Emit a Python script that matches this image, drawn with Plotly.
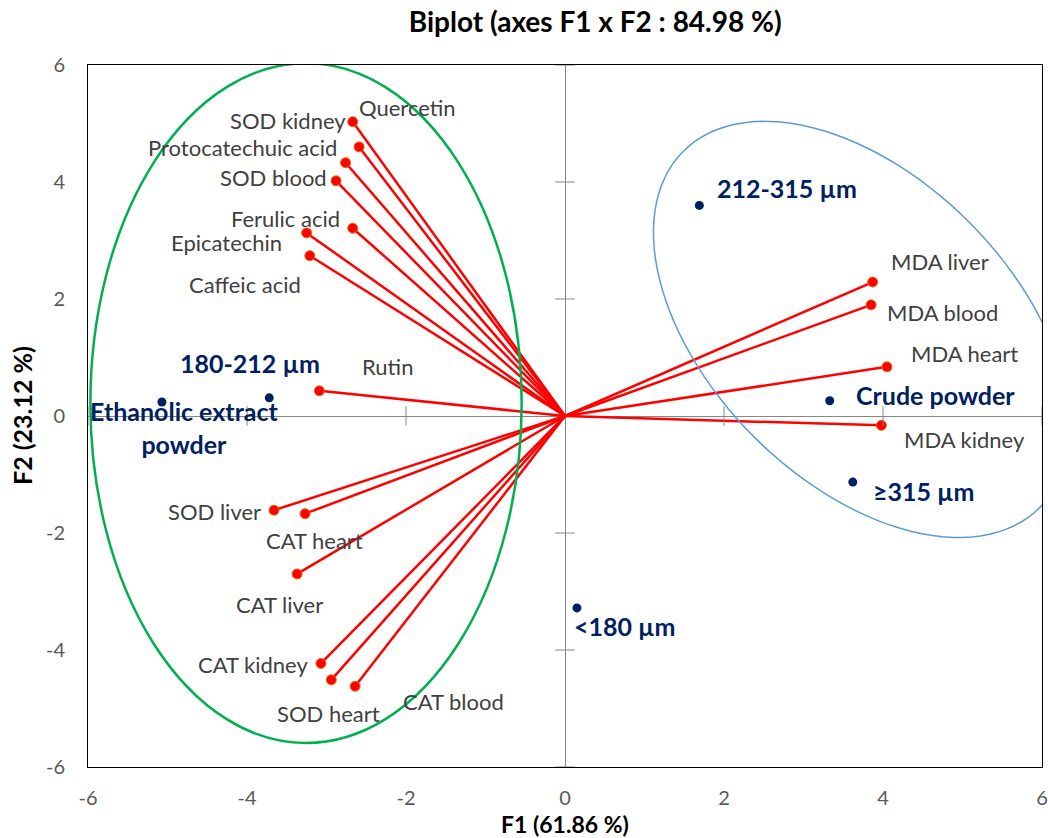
import numpy as np
import plotly.graph_objects as go

# ---------------- data ----------------
var_names = ["SOD kidney", "Quercetin", "Protocatechuic acid", "SOD blood", "Ferulic acid",
             "Epicatechin", "Caffeic acid", "Rutin", "SOD liver", "CAT heart", "CAT liver",
             "CAT kidney", "SOD heart", "CAT blood", "MDA liver", "MDA blood", "MDA heart",
             "MDA kidney"]
var_f1 = [-2.67, -2.59, -2.76, -2.88, -2.67, -3.25, -3.21, -3.09, -3.66, -3.27, -3.37,
          -3.07, -2.94, -2.64, 3.87, 3.85, 4.05, 3.98]
var_f2 = [5.03, 4.60, 4.33, 4.02, 3.21, 3.13, 2.74, 0.43, -1.61, -1.67, -2.70,
          -4.23, -4.51, -4.62, 2.29, 1.90, 0.84, -0.16]

obs_names = ["212-315 µm", "Crude powder", "≥315 µm", "180-212 µm",
             "Ethanolic extract<br>powder", "&lt;180 µm"]
obs_f1 = [1.69, 3.33, 3.62, -3.72, -5.07, 0.15]
obs_f2 = [3.60, 0.26, -1.13, 0.31, 0.24, -3.28]

tick_vals = [-6, -4, -2, 0, 2, 4, 6]
tick_text = ["-6", "-4", "-2", "0", "2", "4", "6"]
title_text = "Biplot (axes F1 x F2 : 84.98 %)"
x_title = "F1 (61.86 %)"
y_title = "F2 (23.12 %)"

# ---------------- label placement (styles, pixels) ----------------
var_label_pos = {
    "SOD kidney": ("right", -5, -1), "Quercetin": ("left", -2, -39),
    "Protocatechuic acid": ("right", -7, -15), "SOD blood": ("right", -7, -3),
    "Ferulic acid": ("right", -11, -10), "Epicatechin": ("right", -23, 10),
    "Caffeic acid": ("right", -7, 29), "Rutin": ("left", 41, -24),
    "SOD liver": ("right", -11, 1), "CAT heart": ("center", 9, 27),
    "CAT liver": ("center", -18, 31), "CAT kidney": ("right", -11, 1),
    "SOD heart": ("center", -3, 34), "CAT blood": ("left", 46, 15),
    "MDA liver": ("left", 16, -21), "MDA blood": ("left", 14, 8),
    "MDA heart": ("left", 22, -13), "MDA kidney": ("left", 21, 14),
}
obs_label_pos = {
    "212-315 µm": ("left", 16, -17), "Crude powder": ("left", 24, -6),
    "≥315 µm": ("left", 18, 9), "180-212 µm": ("center", -19, -35),
    "Ethanolic extract<br>powder": ("center", 23, 26), "&lt;180 µm": ("left", -5, 18),
}

FONT = "Lato"
NAVY = "#002060"
RED = "#FF0000"
TXT = "#404040"

fig = go.Figure()

# vectors from origin
vx, vy = [], []
for a, b in zip(var_f1, var_f2):
    vx += [0, a, None]
    vy += [0, b, None]
fig.add_trace(go.Scatter(x=vx, y=vy, mode="lines", line=dict(color=RED, width=2.5),
                         hoverinfo="skip", showlegend=False))
fig.add_trace(go.Scatter(x=var_f1, y=var_f2, mode="markers", text=var_names,
                         marker=dict(color=RED, size=10, line=dict(color="#E46C0A", width=1)),
                         showlegend=False))
fig.add_trace(go.Scatter(x=obs_f1, y=obs_f2, mode="markers", text=obs_names,
                         marker=dict(color=NAVY, size=9), showlegend=False))

# cross tick marks on the zero axes
inner = [t for t in tick_vals if t != 0]
fig.add_trace(go.Scatter(x=[0] * len(inner), y=inner, mode="markers", hoverinfo="skip",
                         marker=dict(symbol="line-ew", size=14, line=dict(color="#868686", width=1)),
                         showlegend=False))
fig.add_trace(go.Scatter(x=inner, y=[0] * len(inner), mode="markers", hoverinfo="skip",
                         marker=dict(symbol="line-ns", size=14, line=dict(color="#868686", width=1)),
                         showlegend=False))

# ellipses
fig.add_shape(type="circle", xref="x", yref="y", x0=-5.97, x1=-0.545, y0=-5.59, y1=6.03,
              line=dict(color="#00B050", width=2.5), layer="above")
# rotated ellipse (drawn in screen proportions: px per unit x=79.5, y=58.5)
cx, cy, ea, eb, phi = 3.73, 1.48, 252.0, 152.0, np.deg2rad(45)
t = np.linspace(0, 2 * np.pi, 121)
dxp = ea * np.cos(t) * np.cos(phi) - eb * np.sin(t) * np.sin(phi)
dyp = ea * np.cos(t) * np.sin(phi) + eb * np.sin(t) * np.cos(phi)
ex = cx + dxp / 79.5
ey = cy - dyp / 58.5
path = "M " + " L ".join(f"{a:.4f},{b:.4f}" for a, b in zip(ex, ey)) + " Z"
fig.add_shape(type="path", xref="x", yref="y", path=path,
              line=dict(color="#5B9BD5", width=1.5), layer="above")

# labels
for n, a, b in zip(var_names, var_f1, var_f2):
    anc, dx, dy = var_label_pos[n]
    fig.add_annotation(x=a, y=b, text=n, showarrow=False, xanchor=anc, yanchor="middle",
                       xshift=dx, yshift=-dy, font=dict(family=FONT, size=22, color=TXT))
for n, a, b in zip(obs_names, obs_f1, obs_f2):
    anc, dx, dy = obs_label_pos[n]
    fig.add_annotation(x=a, y=b, text=f"<b>{n}</b>", showarrow=False, xanchor=anc,
                       yanchor="middle", xshift=dx, yshift=-dy, align="center",
                       font=dict(family=FONT, size=25, color=NAVY))

# axis titles
fig.add_annotation(xref="paper", yref="paper", x=0.5, y=0, xanchor="center", yanchor="middle",
                   yshift=-57, text=f"<b>{x_title}</b>", showarrow=False,
                   font=dict(family=FONT, size=23, color="#000"))
fig.add_annotation(xref="paper", yref="paper", x=0, y=0.5, xanchor="center", yanchor="middle",
                   xshift=-66, textangle=-90, text=f"<b>{y_title}</b>", showarrow=False,
                   font=dict(family=FONT, size=25, color="#000"))

axis_common = dict(range=[-6, 6], tickvals=tick_vals, ticktext=tick_text, showgrid=False,
                   automargin=False,
                   zeroline=True, zerolinecolor="#868686", zerolinewidth=1,
                   showline=True, linecolor="#000000", linewidth=1, mirror=True,
                   ticks="", tickfont=dict(family=FONT, size=20, color="#595959"))
fig.update_xaxes(**axis_common, ticklabelstandoff=13)
fig.update_yaxes(**axis_common, ticklabelstandoff=18)

fig.update_layout(
    width=1048, height=838,
    margin=dict(l=88, r=6, t=65, b=71),
    plot_bgcolor="white", paper_bgcolor="white",
    title=dict(text=f"<b>{title_text}</b>", x=0.568, xanchor="center", y=0.973, yanchor="middle",
               font=dict(family=FONT, size=28, color="#000")),
    showlegend=False,
)

fig.write_html("out.html", config={"displayModeBar": False},
               post_script="document.body.style.margin='0';document.body.style.padding='0';"
                           "document.body.style.overflow='hidden';")
